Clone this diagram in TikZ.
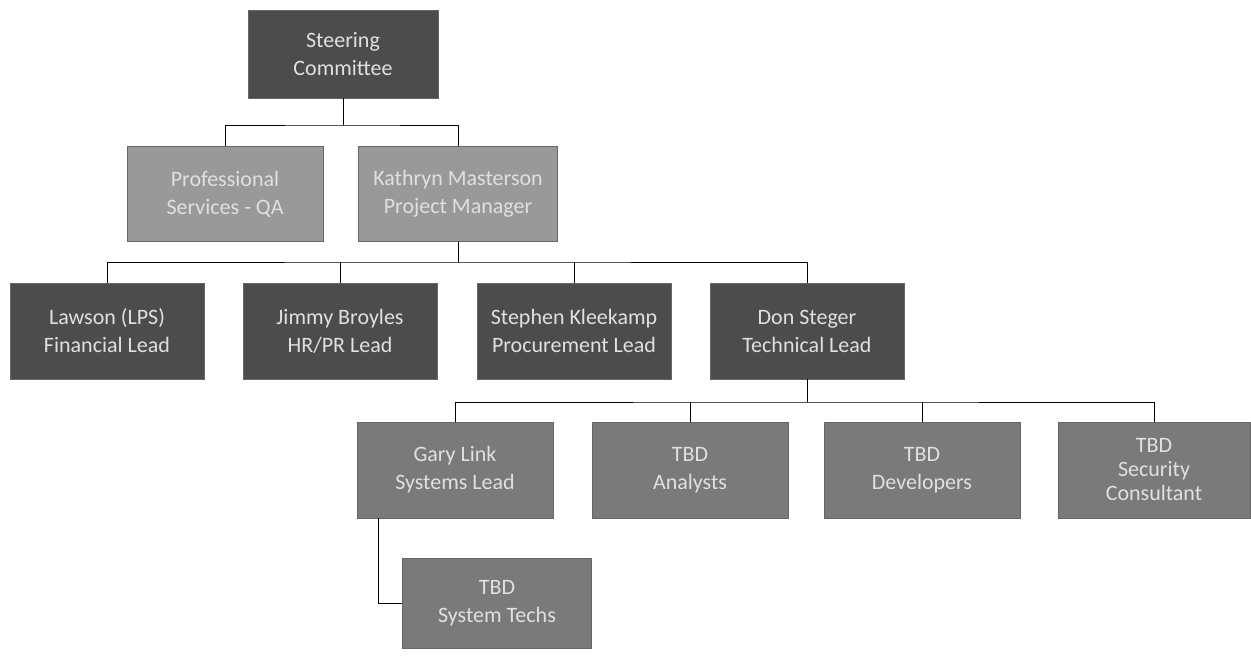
\documentclass[tikz,border=0pt]{standalone}
\usepackage{fontspec}
\setmainfont{Carlito}
\begin{document}
\begin{tikzpicture}[x=1pt,y=-1pt,
  box/.style={draw=black!60,line width=0.6pt,minimum width=#1,align=center,text=white!88!black,
    font=\fontsize{22}{28}\selectfont,inner sep=0pt},
  dark/.style={box=194pt,fill=black!70,minimum height=96pt},
  light/.style={box=196pt,fill=black!40,minimum height=95pt},
  mid/.style={box=196pt,fill=black!52,minimum height=96pt},
  conn/.style={draw=black,line width=0.9pt}]
\useasboundingbox (0,0) rectangle (1251,659);
% level 0
\node[dark,minimum width=190pt,minimum height=88pt] (sc) at (343,54) {Steering\\Committee};
% level 1
\node[light] (qa) at (225,194) {Professional\\Services - QA};
\node[light,minimum width=199pt] (pm) at (458,194) {Kathryn Masterson\\Project Manager};
% level 2
\node[dark] (fin) at (107,331) {Lawson (LPS)\\Financial Lead};
\node[dark] (hr) at (340,331) {Jimmy Broyles\\HR/PR Lead};
\node[dark] (proc) at (574,331) {Stephen Kleekamp\\Procurement Lead};
\node[dark] (tech) at (807,331) {Don Steger\\Technical Lead};
% level 3
\node[mid] (sys) at (455,470) {Gary Link\\Systems Lead};
\node[mid] (ana) at (690,470) {TBD\\Analysts};
\node[mid] (dev) at (922,470) {TBD\\Developers};
\node[mid,minimum width=192pt,font=\fontsize{22}{24}\selectfont] (sec) at (1154,470) {TBD\\Security\\Consultant};
% level 4
\node[mid,minimum width=189pt,minimum height=90pt] (st) at (497,603) {TBD\\System Techs};
% connectors
\coordinate (b0) at (343,125);
\draw[conn] (sc.south) -- (b0);
\draw[conn] (qa.north) |- (b0) -| (pm.north);
\coordinate (b1) at (458,262);
\draw[conn] (pm.south) -- (b1);
\draw[conn] (fin.north) |- (b1) -| (tech.north);
\draw[conn] (hr.north) -- (hr.north |- b1);
\draw[conn] (proc.north) -- (proc.north |- b1);
\coordinate (b2) at (807,402);
\draw[conn] (tech.south) -- (b2);
\draw[conn] (sys.north) |- (b2) -| (sec.north);
\draw[conn] (ana.north) -- (ana.north |- b2);
\draw[conn] (dev.north) -- (dev.north |- b2);
\coordinate (b3) at (378,0);
\draw[conn] (sys.south -| b3) |- (st.west);
\end{tikzpicture}
\end{document}
